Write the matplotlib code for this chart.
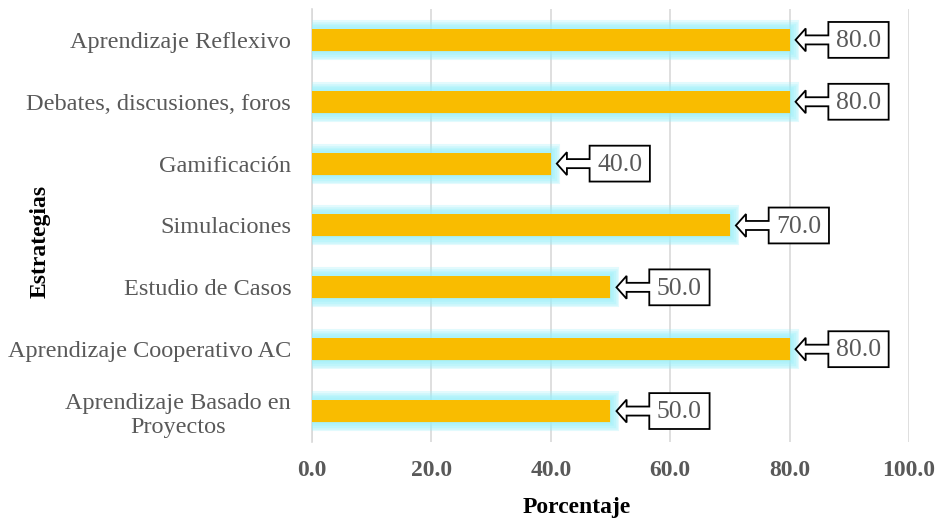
import matplotlib
matplotlib.use("Agg")
import matplotlib.pyplot as plt
import matplotlib.patheffects as pe
from matplotlib.patches import Polygon

categories = [
    "Aprendizaje Reflexivo",
    "Debates, discusiones, foros",
    "Gamificación",
    "Simulaciones",
    "Estudio de Casos",
    "Aprendizaje Cooperativo AC",
    "Aprendizaje Basado en\nProyectos",
]
values = [80.0, 80.0, 40.0, 70.0, 50.0, 80.0, 50.0]
xticks = [0, 20, 40, 60, 80, 100]
xtick_labels = ["0.0", "20.0", "40.0", "60.0", "80.0", "100.0"]

plt.rcParams["font.family"] = ["Liberation Serif", "DejaVu Serif"]

fig = plt.figure(figsize=(9.39, 5.22), dpi=100)
ax = fig.add_axes([0.3323, 0.1533, 0.968 - 0.3323, 0.9828 - 0.1533])

ypos = list(range(len(categories)))
bars = ax.barh(ypos, values, height=0.355, color="#F9BC00", linewidth=0, zorder=3)

glow = "#9AF0FA"
effects = [pe.Stroke(linewidth=w, foreground=glow, alpha=0.28)
           for w in (13.0, 10.5, 8.0, 5.5, 3.0)]
effects.append(pe.Normal())
for b in bars:
    b.set_path_effects(effects)

# Arrow callouts pointing at the bar ends
tip, head, box_l, box_r = 1.0, 2.7, 6.5, 16.6
box_h, head_h, shaft_h = 0.29, 0.185, 0.073
for y, v in zip(ypos, values):
    pts = [
        (v + tip, y),
        (v + head, y - head_h),
        (v + head, y - shaft_h),
        (v + box_l, y - shaft_h),
        (v + box_l, y - box_h),
        (v + box_r, y - box_h),
        (v + box_r, y + box_h),
        (v + box_l, y + box_h),
        (v + box_l, y + shaft_h),
        (v + head, y + shaft_h),
        (v + head, y + head_h),
    ]
    ax.add_patch(Polygon(pts, closed=True, facecolor="white", edgecolor="black",
                         linewidth=1.3, zorder=5, clip_on=False, joinstyle="miter"))
    ax.text(v + (box_l + box_r) / 2, y + 0.02, f"{v:.1f}", ha="center", va="center",
            fontsize=18.5, color="#595959", zorder=6)

ax.set_xlim(0, 100)
ax.set_ylim(len(categories) - 0.5, -0.5)
ax.set_xticks(xticks)
ax.set_xticklabels(xtick_labels, fontsize=17, fontweight="bold", color="#595959")
ax.set_yticks(ypos)
ax.set_yticklabels(categories, fontsize=17.5, color="#595959", multialignment="center")
ax.tick_params(axis="both", length=0)
ax.tick_params(axis="y", pad=15)
ax.tick_params(axis="x", pad=13)

ax.grid(axis="x", color="#D9D9D9", linewidth=1.2, zorder=0)
ax.set_axisbelow(True)
for s in ["top", "right", "bottom"]:
    ax.spines[s].set_visible(False)
ax.spines["left"].set_color("#D9D9D9")
ax.spines["left"].set_linewidth(1.2)

fig.text(577 / 939, 1 - 507 / 522, "Porcentaje", ha="center", va="center",
         fontsize=17, fontweight="bold", color="black")
fig.text(40 / 939, 1 - 241 / 522, "Estrategias", rotation=90, ha="center", va="center",
         fontsize=17, fontweight="bold", color="black")

fig.savefig("out.png", dpi=100)
